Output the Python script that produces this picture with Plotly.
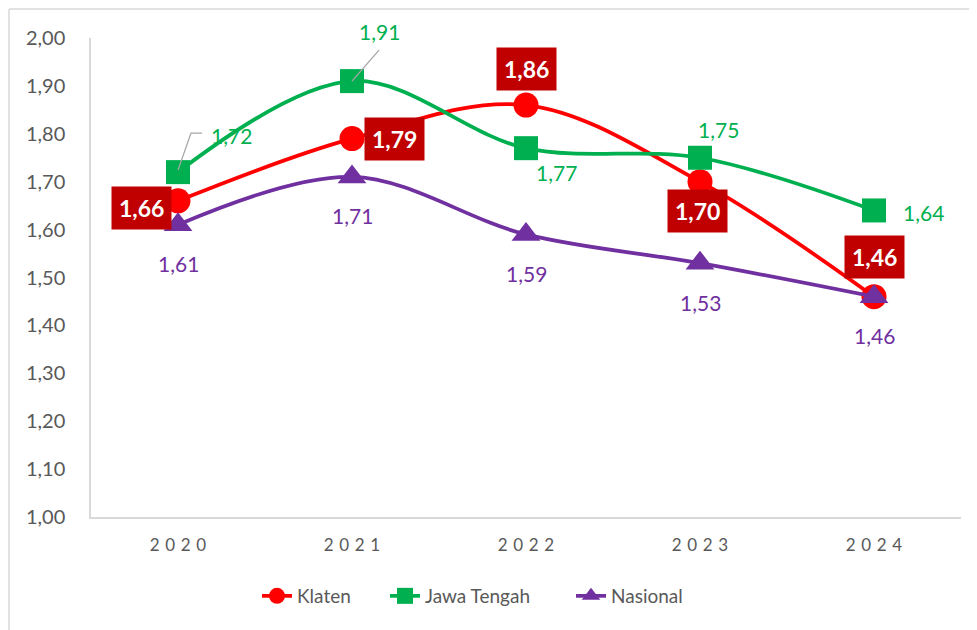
import plotly.graph_objects as go

years = [2020, 2021, 2022, 2023, 2024]
sp = "\u2004"
year_labels = [sp.join(str(y)) for y in years]
klaten = [1.66, 1.79, 1.86, 1.70, 1.46]
jateng = [1.72, 1.91, 1.77, 1.75, 1.64]
nasional = [1.61, 1.71, 1.59, 1.53, 1.46]
y_ticks = [1.0, 1.1, 1.2, 1.3, 1.4, 1.5, 1.6, 1.7, 1.8, 1.9, 2.0]

RED = "#FF0000"
DARKRED = "#C00000"
GREEN = "#00B050"
PURPLE = "#7030A0"
GRAY = "#595959"
FONT = "Lato"

fig = go.Figure()
fig.add_trace(go.Scatter(x=years, y=klaten, name="Klaten", mode="lines+markers", legendwidth=83,
                         line=dict(color=RED, width=3.75, shape="spline", smoothing=1),
                         marker=dict(symbol="circle", size=25, color=RED)))
fig.add_trace(go.Scatter(x=years, y=jateng, name="Jawa Tengah", mode="lines+markers", legendwidth=141,
                         line=dict(color=GREEN, width=3.75, shape="spline", smoothing=1),
                         marker=dict(symbol="square", size=24, color=GREEN)))
fig.add_trace(go.Scatter(x=years, y=nasional, name="Nasional", mode="lines+markers", legendwidth=75,
                         line=dict(color=PURPLE, width=3.75, shape="spline", smoothing=1),
                         marker=dict(symbol="triangle-up", size=25, color=PURPLE)))

def fmt(v):
    return f"{v:.2f}".replace(".", ",")

# Klaten label offsets (pixels)
k_off = [(-37, 7), (42, 0), (0, -36), (-3, 29), (0, -40)]
for x, v, (ax, ay) in zip(years, klaten, k_off):
    fig.add_annotation(x=x, y=v, xref="x", yref="y", text=f"<b>{fmt(v)}</b>",
                       showarrow=False, xshift=ax, yshift=-ay,
                       bgcolor=DARKRED, borderpad=7,
                       font=dict(family=FONT, size=23, color="white"))

# Jawa Tengah label offsets
j_off = [(53, -37), (27, -50), (30, 24), (18, -28), (49, 2)]
for x, v, (ax, ay) in zip(years, jateng, j_off):
    fig.add_annotation(x=x, y=v, xref="x", yref="y", text=fmt(v),
                       showarrow=False, xshift=ax, yshift=-ay,
                       font=dict(family=FONT, size=21, color=GREEN))

# leader lines for the two displaced Jawa Tengah labels (pixel offsets from the point)
leaders = [(0, "M 0,2 L 13,39 L 24,39"), (1, "M 0,0 L 27,31")]
for i, path in leaders:
    fig.add_shape(type="path", xref="x", yref="y", xsizemode="pixel", ysizemode="pixel",
                  xanchor=years[i], yanchor=jateng[i], path=path,
                  line=dict(color="#A6A6A6", width=1.3), layer="above")

# Nasional labels below
for x, v in zip(years, nasional):
    fig.add_annotation(x=x, y=v, xref="x", yref="y", text=fmt(v),
                       showarrow=False, yshift=-39,
                       font=dict(family=FONT, size=21, color=PURPLE))

# outer chart border (page has an 8px body offset)
L, R, T, B = 83, 24, 30, 121
pw = 977 - L - R
ph = 630 - T - B
bx = (1 - L) / pw
by = 1 + (T - 1) / ph
fig.add_shape(type="line", xref="paper", yref="paper", x0=bx, x1=1.2, y0=by, y1=by,
              line=dict(color="#D9D9D9", width=1.5))
fig.add_shape(type="line", xref="paper", yref="paper", x0=bx, x1=bx, y0=-0.4, y1=by,
              line=dict(color="#D9D9D9", width=1.5))

fig.update_layout(
    width=977, height=630,
    margin=dict(l=L, r=R, t=T, b=B, autoexpand=False),
    paper_bgcolor="white", plot_bgcolor="white",
    separators=",.",
    font=dict(family=FONT, size=18, color=GRAY),
    showlegend=True,
    legend=dict(orientation="h", x=(257 - 8 - L) / pw, xanchor="left",
                y=-(596 - 8 - (630 - B)) / ph, yanchor="middle",
                font=dict(family=FONT, size=19, color=GRAY)),
    xaxis=dict(range=[2019.5, 2024.5], tickvals=years, ticktext=year_labels, automargin=False,
               showline=True, linecolor="#D9D9D9", linewidth=1.5, showgrid=False, zeroline=False,
               ticks="outside", ticklen=12, tickcolor="rgba(0,0,0,0)",
               tickfont=dict(family=FONT, size=17, color=GRAY)),
    yaxis=dict(range=[1.0, 2.0], tickvals=y_ticks, tickformat=".2f", automargin=False,
               showline=True, linecolor="#D9D9D9", linewidth=1.5, showgrid=False, zeroline=False,
               ticks="outside", ticklen=20, tickcolor="rgba(0,0,0,0)",
               tickfont=dict(family=FONT, size=20, color=GRAY)),
)

fig.write_html("out.html")
